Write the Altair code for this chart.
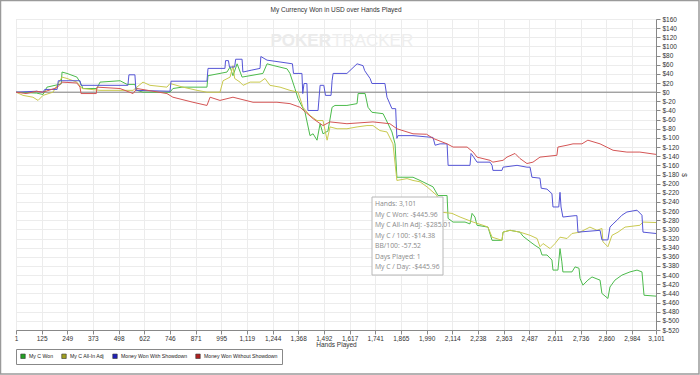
import altair as alt
import pandas as pd

# ---- data ----
series_names = ["My C Won", "My C All-In Adj", "Money Won With Showdown", "Money Won Without Showdown"]
line_colors = ["#4cbb4c", "#c9c94f", "#5555d6", "#d45555"]
legend_colors = ["#22a022", "#a0a020", "#2020b8", "#b02020"]

won_hands = [1,100,132,151,190,220,224,248,296,311,326,393,408,505,539,577,587,616,747,761,805,926,931,1023,1038,1052,1072,1096,1197,1217,1250,1314,1328,1352,1367,1401,1425,1440,1459,1474,1488,1512,1532,1546,1604,1653,1658,1692,1706,1725,1779,1803,1822,1837,1846,1924,1958,2021,2045,2089,2094,2118,2176,2200,2210,2224,2234,2287,2307,2355,2360,2394,2442,2457,2491,2515,2539,2549,2573,2597,2602,2626,2636,2645,2650,2694,2709,2728,2733,2747,2771,2791,2830,2839,2868,2878,2902,2936,2975,3009,3033,3043,3101]
won_vals = [0,-2,-5,11,15,18,44,41,33,22,8,8,22,25,17,17,4,0,0,8,11,11,36,44,55,36,62,33,41,62,58,51,41,8,-14,-44,-95,-91,-105,-69,-91,-85,-33,-29,-29,-25,-3,-3,-33,-44,-47,-69,-87,-113,-186,-186,-193,-207,-226,-226,-276,-284,-284,-288,-265,-273,-291,-295,-324,-324,-306,-302,-306,-315,-327,-335,-342,-356,-356,-367,-389,-389,-342,-371,-393,-393,-382,-385,-407,-422,-411,-404,-411,-440,-451,-426,-411,-400,-393,-389,-393,-444,-446]

adj_hands = [1,35,83,108,132,180,224,248,296,321,408,568,616,650,732,747,810,878,926,989,1004,1038,1052,1060,1086,1101,1135,1183,1207,1231,1280,1328,1367,1391,1425,1459,1488,1508,1522,1556,1604,1653,1701,1730,1764,1798,1827,1846,1895,1924,1958,1992,2040,2055,2113,2152,2215,2263,2287,2307,2355,2360,2394,2442,2491,2525,2539,2554,2588,2612,2636,2670,2694,2733,2781,2815,2839,2844,2868,2888,2917,2951,3023,3038,3101]
adj_vals = [0,-7,-11,-18,-7,0,33,30,22,8,4,4,22,15,11,19,11,4,0,0,25,33,58,30,22,15,22,22,30,15,11,4,0,-33,-51,-62,-62,-105,-76,-80,-80,-76,-73,-73,-84,-87,-113,-193,-189,-193,-196,-207,-226,-262,-265,-273,-284,-291,-295,-317,-324,-306,-302,-306,-313,-320,-338,-331,-342,-331,-317,-320,-309,-306,-295,-302,-298,-327,-338,-313,-306,-295,-291,-284,-285]

sd_hands = [1,100,132,140,200,206,311,316,543,548,577,582,747,752,926,931,1013,1016,1030,1035,1060,1065,1096,1100,1140,1183,1187,1217,1280,1340,1345,1386,1390,1396,1410,1415,1464,1474,1492,1500,1527,1532,1537,1604,1653,1682,1690,1716,1725,1788,1798,1822,1840,1846,1851,1924,2021,2031,2055,2089,2094,2200,2205,2215,2234,2297,2307,2311,2355,2360,2428,2476,2491,2500,2539,2545,2573,2597,2602,2630,2636,2641,2650,2709,2718,2723,2830,2839,2868,2878,2893,2912,2936,2960,3009,3033,3038,3101]
sd_vals = [0,2,0,6,6,25,25,15,15,38,38,4,2,24,24,52,52,69,69,55,55,72,72,44,48,52,78,70,66,62,41,41,-3,19,19,-40,-40,15,15,-7,-7,25,41,41,62,58,47,30,19,19,-11,-36,-36,-101,-95,-95,-99,-116,-113,-113,-160,-160,-134,-140,-153,-153,-160,-171,-171,-164,-160,-164,-164,-186,-188,-210,-212,-222,-251,-251,-219,-251,-273,-270,-270,-306,-302,-323,-323,-295,-288,-280,-269,-262,-258,-269,-306,-309]

nsd_hands = [1,50,100,132,200,224,296,311,316,390,393,505,568,587,732,761,858,926,941,989,1052,1149,1265,1328,1377,1440,1488,1522,1604,1730,1812,1846,1924,1990,2021,2055,2089,2118,2186,2215,2234,2297,2311,2360,2379,2418,2442,2476,2505,2539,2621,2626,2670,2699,2742,2771,2830,2893,2960,3023,3101]
nsd_vals = [0,-3,2,0,10,22,20,11,-3,-3,11,8,-3,8,-3,-11,-22,-29,-11,-18,-11,-22,-22,-25,-33,-58,-73,-65,-69,-65,-69,-80,-91,-92,-101,-107,-113,-120,-120,-131,-142,-149,-153,-149,-142,-134,-145,-156,-153,-142,-138,-120,-116,-113,-113,-105,-113,-127,-131,-131,-136]

x_ticks = [1,125,249,373,498,622,746,871,995,1119,1244,1368,1492,1617,1741,1865,1990,2114,2238,2363,2487,2611,2736,2860,2984,3101]
y_ticks = list(range(-520, 161, 20))

tooltip_lines = ["Hands: 3,101", "My C Won: -$445.96", "My C All-In Adj: -$285.01",
                 "My C / 100: -$14.38", "BB/100: -57.52", "Days Played: 1", "My C / Day: -$445.96"]

chart_title = "My Currency Won in USD over Hands Played"

# ---- build table ----
rows = []
for name, hs, vs in zip(series_names, [won_hands, adj_hands, sd_hands, nsd_hands],
                        [won_vals, adj_vals, sd_vals, nsd_vals]):
    for i, (h, v) in enumerate(zip(hs, vs)):
        rows.append({"series": name, "hand": h, "value": v, "order": i})
df = pd.DataFrame(rows)

W, H = 640, 311
FONT = "Liberation Sans"

xscale = alt.Scale(domain=[1, 3101], nice=False, zero=False)
yscale = alt.Scale(domain=[-520, 160], nice=False, zero=False)

x_axis = alt.Axis(values=x_ticks, labelExpr="format(datum.value, ',')", title="Hands Played",
                  grid=True, gridColor="#ececec", domainColor="#888", tickColor="#888",
                  tickSize=4, labelFontSize=6.5, labelColor="#333", titleFontSize=6.5,
                  titleFontWeight="normal", titleColor="#333", labelFont=FONT, titleFont=FONT,
                  labelPadding=1, titlePadding=0, labelOverlap=False, labelFlush=False)
y_axis = alt.Axis(orient="right", values=y_ticks, labelExpr="'$' + datum.value", title="$",
                  grid=True, gridColor="#ececec", domainColor="#888", tickColor="#888",
                  tickSize=4, labelFontSize=6.5, labelColor="#333", titleFontSize=6.5,
                  titleFontWeight="normal", titleColor="#333", labelFont=FONT, titleFont=FONT,
                  labelPadding=2, titlePadding=2, labelOverlap=False, labelFlush=False)

lines = alt.Chart(df).mark_line(strokeWidth=1, clip=True).encode(
    x=alt.X("hand:Q", scale=xscale, axis=x_axis),
    y=alt.Y("value:Q", scale=yscale, axis=y_axis),
    color=alt.Color("series:N", scale=alt.Scale(domain=series_names, range=line_colors), legend=None),
    order="order:Q",
    detail="series:N",
)

zero = alt.Chart(pd.DataFrame({"z": [0]})).mark_rule(color="#808080", strokeWidth=1).encode(
    y=alt.Y("z:Q", scale=yscale, axis=y_axis)
)

legend_df = pd.DataFrame({"series": series_names})
legend_layer = alt.Chart(legend_df).mark_square(opacity=0).encode(
    x=alt.value(0),
    y=alt.value(0),
    color=alt.Color("series:N", scale=alt.Scale(domain=series_names, range=legend_colors),
                    legend=alt.Legend(title=None, orient="none", legendX=0, legendY=330,
                                      direction="horizontal", symbolType="square", symbolSize=20,
                                      symbolOpacity=1, symbolStrokeColor="#333", symbolStrokeWidth=0.6,
                                      labelFontSize=5.2, labelFont=FONT, labelColor="#222",
                                      labelOffset=3, columnPadding=6, padding=4,
                                      strokeColor="#888", fillColor="white")),
)

# title text
title_mark = alt.Chart(pd.DataFrame({"t": [chart_title]})).mark_text(
    font=FONT, fontSize=6.5, color="#333", align="center", baseline="middle", clip=False
).encode(text="t:N", x=alt.value(320), y=alt.value(-9))

# watermark
wm = alt.Chart(pd.DataFrame({"t": ["POKER"]})).mark_text(
    font=FONT, fontSize=17, fontWeight="bold", color="#ebebeb", align="right", baseline="middle"
).encode(text="t:N", x=alt.value(315), y=alt.value(22))
wm2 = alt.Chart(pd.DataFrame({"t": ["TRACKER"]})).mark_text(
    font=FONT, fontSize=17, color="#eeeeee", align="left", baseline="middle"
).encode(text="t:N", x=alt.value(316), y=alt.value(22))

# tooltip box
tip_box = alt.Chart(pd.DataFrame({"a": [0]})).mark_rect(
    fill="white", stroke="#b8b8b8", strokeWidth=1
).encode(x=alt.value(356), x2=alt.value(427), y=alt.value(178), y2=alt.value(256))
tip_text = alt.Chart(pd.DataFrame({"t": ["\n".join(tooltip_lines)]})).mark_text(
    font="Open Sans", fontSize=6.8, color="#8a8a8a", align="left", baseline="top",
    lineBreak="\n", lineHeight=10.5
).encode(text="t:N", x=alt.value(359), y=alt.value(182))

frame = alt.Chart(pd.DataFrame({"a": [0]})).mark_rect(
    fill=None, stroke="#9a9a9a", strokeWidth=1.5, clip=False
).encode(x=alt.value(-15.5), x2=alt.value(683), y=alt.value(-18.5), y2=alt.value(355))

chart = alt.layer(zero, wm, wm2, lines, legend_layer, tip_box, tip_text, title_mark, frame).resolve_scale(
    color="independent"
).properties(
    width=W, height=H,
    autosize=alt.AutoSizeParams(type="none"),
    padding={"left": 16, "top": 19, "right": 44, "bottom": 45},
).configure_view(stroke="#999", strokeWidth=1).configure(background="white")

chart.save("out.html", embed_options={"renderer": "svg", "actions": False})
